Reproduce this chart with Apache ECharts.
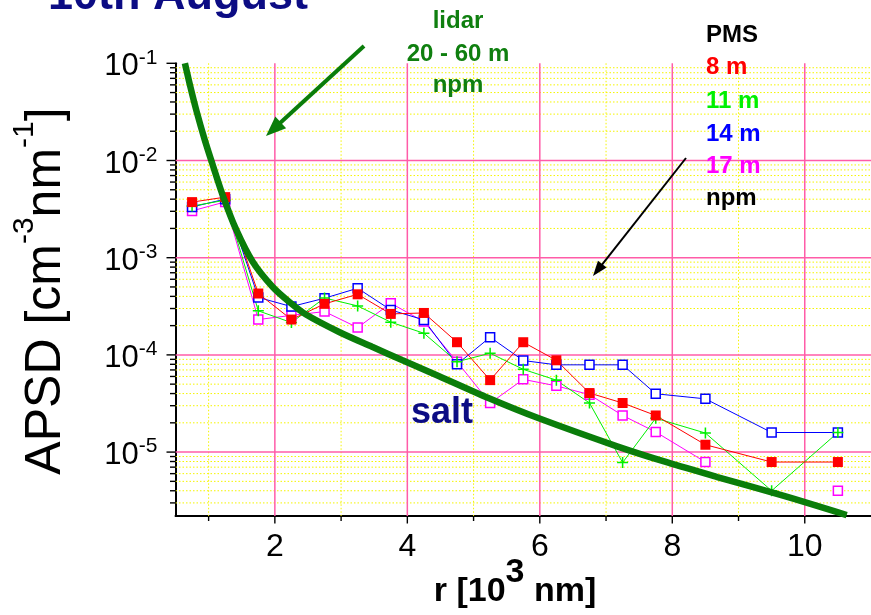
<!DOCTYPE html>
<html>
<head>
<meta charset="utf-8">
<script src="https://cdn.jsdelivr.net/npm/echarts@6/dist/echarts.min.js"></script>
<style>
  html, body { margin: 0; padding: 0; background: #ffffff; }
  #chart { width: 871px; height: 615px; }
</style>
</head>
<body>
<div id="chart"></div>
<script>
// Particle radius bins, 10^3 nm
const radius = [0.75, 1.25, 1.75, 2.25, 2.75, 3.25, 3.75, 4.25, 4.75, 5.25, 5.75, 6.25, 6.75, 7.25, 7.75, 8.5, 9.5, 10.5];

// PMS size distributions, cm^-3 nm^-1
const pms8m  = [3.73e-3, 4.2e-3, 4.28e-4, 2.31e-4, 3.35e-4, 4.2e-4, 2.64e-4, 2.7e-4, 1.35e-4, 5.5e-5, 1.35e-4, 8.8e-5, 4.05e-5, 3.2e-5, 2.38e-5, 1.19e-5, 7.9e-6, 7.9e-6];
const pms11m = [3.4e-3, 3.9e-3, 2.84e-4, 2.15e-4, 3.85e-4, 3.19e-4, 2.17e-4, 1.67e-4, 8.5e-5, 1.04e-4, 7.1e-5, 5.5e-5, 3.2e-5, 7.8e-6, 2.23e-5, 1.57e-5, 4.0e-6, 1.59e-5];
const pms14m = [3.33e-3, 4.0e-3, 3.9e-4, 3.14e-4, 3.83e-4, 4.85e-4, 2.9e-4, 2.29e-4, 8.0e-5, 1.52e-4, 8.75e-5, 7.9e-5, 7.9e-5, 7.9e-5, 3.98e-5, 3.53e-5, 1.59e-5, 1.59e-5];
const pms17m = [3.03e-3, 3.75e-3, 2.31e-4, 2.55e-4, 2.79e-4, 1.91e-4, 3.4e-4, 2.2e-4, 8.5e-5, 3.19e-5, 5.6e-5, 4.8e-5, 3.9e-5, 2.38e-5, 1.61e-5, 7.9e-6, null, 4.0e-6];

// Lidar retrieved salt distribution (20 - 60 m)
const lidarR    = [0.642, 0.718, 0.817, 0.942, 1.067, 1.217, 1.418, 1.668, 1.968, 2.219, 2.470, 2.970, 3.468, 3.919, 4.472, 5.224, 5.975, 7.177, 7.928, 8.679, 9.686, 10.633];
const lidarApsd = [1.0e-1, 5.98e-2, 3.23e-2, 1.625e-2, 8.78e-3, 4.31e-3, 1.93e-3, 9.03e-4, 4.99e-4, 3.50e-4, 2.60e-4, 1.72e-4, 1.21e-4, 8.86e-5, 6.07e-5, 3.60e-5, 2.24e-5, 1.14e-5, 7.82e-6, 5.54e-6, 3.54e-6, 2.25e-6];

// Axis ranges and tick positions
const X_MIN = 0.5, X_MAX = 11;
const Y_MIN = 2.2e-6, Y_MAX = 0.1;
const xMajorTicks = [2, 4, 6, 8, 10];
const xMinorTicks = [1, 3, 5, 7, 9];
const yMajorTicks = [1e-5, 1e-4, 1e-3, 1e-2, 1e-1];
const yMantissas = [2, 3, 4, 5, 6, 7, 8, 9];
const yDecades = [-6, -5, -4, -3, -2];
const yMinorTicks = [];
yDecades.forEach(function (e) {
  yMantissas.forEach(function (m) {
    const v = m * Math.pow(10, e);
    if (v >= Y_MIN && v < Y_MAX) yMinorTicks.push(v);
  });
});

const FONT = '"Liberation Sans", Arial, Helvetica, sans-serif';
const C_RED = '#ff0000', C_GREEN = '#00f000', C_BLUE = '#0000ff', C_MAGENTA = '#ff00ff';
const C_LIDAR = '#0a7d0a', C_NAVY = '#0c0c84', C_PINK = '#ff5ca8', C_YELLOW = '#f5f500';

const pinkLine = { stroke: C_PINK, lineWidth: 1.5 };
const dotLine = { stroke: C_YELLOW, lineWidth: 1, lineDash: [1.5, 2] };
const tickStyle = { stroke: '#000', lineWidth: 1.4 };

// horizontal grid line + left tick at a y value
function hRule(style, tickLen, drawGrid) {
  return function (params, api) {
    const cs = params.coordSys;
    const y = api.coord([X_MIN, api.value(1)])[1];
    const children = [];
    if (drawGrid) {
      children.push({ type: 'line', shape: { x1: cs.x, y1: y, x2: cs.x + cs.width, y2: y }, style: style });
    }
    children.push({ type: 'line', shape: { x1: cs.x - tickLen, y1: y, x2: cs.x, y2: y }, style: tickStyle });
    return { type: 'group', children: children };
  };
}
// vertical grid line + bottom tick at an x value
function vRule(style, tickLen) {
  return function (params, api) {
    const cs = params.coordSys;
    const x = api.coord([api.value(0), Y_MIN])[0];
    const yb = cs.y + cs.height;
    return {
      type: 'group',
      children: [
        { type: 'line', shape: { x1: x, y1: cs.y, x2: x, y2: yb }, style: style },
        { type: 'line', shape: { x1: x, y1: yb, x2: x, y2: yb + tickLen }, style: tickStyle }
      ]
    };
  };
}

function ruleSeries(data, renderItem) {
  return { type: 'custom', data: data, renderItem: renderItem, z: 1, silent: true, clip: false };
}

function pmsSeries(name, values, color, symbol, filled, size) {
  return {
    name: name,
    type: 'line',
    data: radius.map(function (r, i) { return [r, values[i]]; }),
    symbol: symbol,
    symbolSize: size,
    showAllSymbol: true,
    connectNulls: false,
    lineStyle: { color: color, width: 1 },
    itemStyle: filled
      ? { color: color, borderWidth: 0 }
      : { color: '#ffffff', borderColor: color, borderWidth: 1.5 },
    emphasis: { disabled: true },
    z: 3
  };
}

const plusPath = 'path://M4.3,0H5.7V4.3H10V5.7H5.7V10H4.3V5.7H0V4.3H4.3Z';

// filled arrow from (x1,y1) to tip (x2,y2)
function arrow(x1, y1, x2, y2, width, head, halfW, color) {
  const dx = x2 - x1, dy = y2 - y1, len = Math.sqrt(dx * dx + dy * dy);
  const ux = dx / len, uy = dy / len, nx = -uy, ny = ux;
  const bx = x2 - ux * head, by = y2 - uy * head;
  return [
    { type: 'line', shape: { x1: x1, y1: y1, x2: bx + ux * 2, y2: by + uy * 2 }, style: { stroke: color, lineWidth: width }, z: 10 },
    { type: 'polygon', shape: { points: [[x2, y2], [bx + nx * halfW, by + ny * halfW], [bx - nx * halfW, by - ny * halfW]] }, style: { fill: color }, z: 10 }
  ];
}

function label(text, x, y, size, color, align, weight) {
  return {
    type: 'text', x: x, y: y, z: 10, silent: true,
    style: {
      text: text, fill: color, font: (weight || 'bold') + ' ' + size + 'px ' + FONT,
      align: align || 'left', verticalAlign: 'middle',
      textAlign: align || 'left', textVerticalAlign: 'middle'
    }
  };
}

const graphics = [].concat(
  [
    label('10th August', 48, -3.6, 45, C_NAVY, 'left'),
    label('lidar', 458, 21, 24, '#0f7f0f', 'center'),
    label('20 - 60 m', 458, 54, 24, '#0f7f0f', 'center'),
    label('npm', 458, 85.7, 24, '#0f7f0f', 'center'),
    label('PMS', 706, 35, 24, '#000000'),
    label('8 m', 706, 67.7, 24, C_RED),
    label('11 m', 706, 101, 24, C_GREEN),
    label('14 m', 706, 134.4, 24, C_BLUE),
    label('17 m', 706, 166.7, 24, C_MAGENTA),
    label('npm', 706, 198.7, 24, '#000000'),
    label('salt', 411, 413.5, 36, C_NAVY),
    {
      type: 'text', x: 40.5, y: 291, rotation: Math.PI / 2, z: 10, silent: true,
      style: {
        text: '{a|APSD [cm}{s|-3}{a|nm}{s|-1}{a|]}',
        align: 'center', verticalAlign: 'middle', textAlign: 'center', textVerticalAlign: 'middle',
        rich: {
          a: { fontFamily: FONT, fontSize: 50, fill: '#000', lineHeight: 61, verticalAlign: 'bottom' },
          s: { fontFamily: FONT, fontSize: 30, fill: '#000', lineHeight: 30, verticalAlign: 'top' }
        }
      }
    },
    {
      type: 'text', x: 515, y: 582.5, z: 10, silent: true,
      style: {
        text: '{a|r [10}{s|3}{a| nm]}',
        align: 'center', verticalAlign: 'middle', textAlign: 'center', textVerticalAlign: 'middle',
        rich: {
          a: { fontFamily: FONT, fontWeight: 'bold', fontSize: 34, fill: '#000', lineHeight: 53, verticalAlign: 'bottom' },
          s: { fontFamily: FONT, fontWeight: 'bold', fontSize: 34, fill: '#000', lineHeight: 34, verticalAlign: 'top' }
        }
      }
    }
  ],
  arrow(364, 46, 266, 136, 4, 20, 8, C_LIDAR),
  arrow(686, 158, 593, 276, 2, 15, 5.5, '#000000')
);

const chart = echarts.init(document.getElementById('chart'), null, { renderer: 'canvas' });
chart.setOption({
  animation: false,
  backgroundColor: '#ffffff',
  grid: { left: 175.5, top: 63.3, right: -3.4, bottom: 99, containLabel: false },
  xAxis: {
    type: 'value', min: X_MIN, max: X_MAX,
    axisLine: { onZero: false, lineStyle: { color: '#000', width: 2 } },
    axisTick: { show: false },
    splitLine: { show: false },
    axisLabel: {
      margin: 15, color: '#000', fontFamily: FONT, fontSize: 32,
      showMinLabel: false, showMaxLabel: false,
      formatter: function (v) {
        const r = Math.round(v);
        return (Math.abs(v - r) < 1e-9 && r % 2 === 0) ? String(r) : '';
      }
    }
  },
  yAxis: {
    type: 'log', logBase: 10, min: Y_MIN, max: Y_MAX,
    axisLine: { onZero: false, lineStyle: { color: '#000', width: 2 } },
    axisTick: { show: false },
    splitLine: { show: false },
    axisLabel: {
      margin: 18, padding: [3, 0, 0, 0], color: '#000',
      formatter: function (v) {
        const e = Math.log10(v), r = Math.round(e);
        return Math.abs(e - r) < 1e-6 ? '{b|10}{s|' + r + '}' : '';
      },
      rich: {
        b: { fontFamily: FONT, fontSize: 31, color: '#000', lineHeight: 35, verticalAlign: 'bottom' },
        s: { fontFamily: FONT, fontSize: 21, color: '#000', lineHeight: 21, verticalAlign: 'top' }
      }
    }
  },
  series: [
    ruleSeries(yMinorTicks.map(function (v) { return [X_MIN, v]; }), hRule(dotLine, 5.5, true)),
    ruleSeries(xMinorTicks.map(function (v) { return [v, Y_MIN]; }), vRule(dotLine, 5)),
    ruleSeries(yMajorTicks.map(function (v) { return [X_MIN, v]; }), function (params, api) {
      return hRule(pinkLine, 9, api.value(1) < Y_MAX * 0.999)(params, api);
    }),
    ruleSeries(xMajorTicks.map(function (v) { return [v, Y_MIN]; }), vRule(pinkLine, 7.5)),
    pmsSeries('17 m', pms17m, C_MAGENTA, 'rect', false, 9),
    pmsSeries('14 m', pms14m, C_BLUE, 'rect', false, 9),
    pmsSeries('11 m', pms11m, C_GREEN, plusPath, true, 11),
    pmsSeries('8 m', pms8m, C_RED, 'rect', true, 10),
    {
      name: 'lidar',
      type: 'line',
      data: lidarR.map(function (r, i) { return [r, lidarApsd[i]]; }),
      symbol: 'none',
      smooth: 0.3,
      lineStyle: { color: C_LIDAR, width: 6.5 },
      emphasis: { disabled: true },
      z: 5
    }
  ],
  graphic: graphics
});
</script>
</body>
</html>
